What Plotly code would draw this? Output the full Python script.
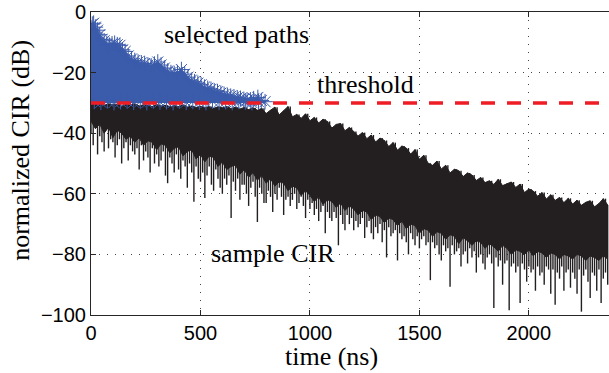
import plotly.graph_objects as go

# ---------------- data ----------------
THRESHOLD_DB = -30

# sample CIR: upper edge of the dense black trace, every 20 ns
cir_top_t = list(range(0, 2361, 20))
cir_top_db = [
    -30, -30.5, -30.2, -30.8, -30.3, -30.6, -30.4, -31, -30.5, -30.7,
    -30.3, -31, -30.6, -30.8, -31.2, -30.5, -31, -30.8, -31.3, -30.9,
    -31.2, -30.7, -31.4, -31, -31.5, -31.1, -31.6, -31.2, -31.8, -31.3,
    -31.6, -31.2, -31.9, -31.4, -32, -31.5, -32.2, -31.6, -32.4,
    -31.8, -33.5, -32.4, -31.4, -33.9, -32.6, -31.2, -34.6, -33.8, -35.1,
    -33.6, -35.9, -34.8, -36.6, -35.4, -36.1, -38.3, -37.1, -36.8, -39.2,
    -38.1, -39.4, -40.9, -39.8, -41.8, -40.6, -42.9, -41.6, -42.4, -44.4,
    -43.1, -45.6, -44.2, -44.9, -46.9, -45.4, -48.6, -47.3, -49.9, -50.6,
    -49.2, -51.8, -50.6, -53.1, -51.9, -52.4, -54.3, -53.1, -53.8, -55.6,
    -54.6, -56.3, -55.7, -56.9, -55.2, -57.3, -56.6, -56.1, -57.9, -56.8,
    -59.6, -58.4, -59.1, -60.8, -59.6, -61.7, -60.3, -62.2, -61.2, -62.9,
    -61.5, -63.4, -62.1, -63.8, -62.8, -62.3, -64.3, -63.2, -61.6, -63.7,
]
# sample CIR: lower edge of the solid part of the trace, every 20 ns
cir_core_db = [
    -36, -38.5, -37, -40, -38, -41.5, -39, -40, -42, -41,
    -43, -41.5, -44, -42.5, -43, -45.5, -43.5, -44, -46.5, -45,
    -44.5, -47.5, -46, -45.5, -48.5, -47, -49.5, -47.5, -48, -51,
    -49.5, -52, -51, -50.5, -53.5, -52, -54.5, -53, -55.5, -54,
    -56.5, -55, -57.5, -56, -56.5, -59, -57.5, -58, -60.5, -59,
    -60.5, -62.5, -61, -63.5, -62, -62.5, -64.5, -63, -65.5, -64,
    -65, -67, -65.5, -66, -68.5, -67, -67.5, -69.5, -68, -68.5,
    -70.5, -69, -71.5, -70, -70.5, -73, -71.5, -72, -74, -72.5,
    -73, -75, -73.5, -74, -76.5, -74.5, -75.5, -77, -75.5, -76,
    -78, -76.5, -77.5, -79, -77, -78, -80, -78.5, -79, -80,
    -78.5, -80.5, -79, -79.5, -81, -79.5, -80, -81.5, -80, -80.5,
    -81.5, -80, -80.5, -82, -80.5, -81, -82, -80.5, -81.5,
]
# sample CIR: depth of each fade (null) below the solid part, every 10 ns
cir_null_t = list(range(0, 2361, 10))
cir_null_db = [
    -40, -44, -38, -47, -41, -43, -46, -39, -45, -42,
    -43, -48, -44, -42, -50, -45, -43, -49, -44, -46,
    -47, -45, -52, -44, -49, -46, -48, -53, -45, -50,
    -47, -51, -49, -46, -54, -56.5, -48, -50, -53, -47,
    -52, -55, -49, -51, -58, -50, -53, -62.6, -51, -55,
    -56, -53, -61.4, -54, -51, -57, -59, -52, -55, -58,
    -60, -55, -57, -54, -68, -56, -59, -55, -62, -57,
    -57, -60, -64, -58, -56, -61, -69.3, -58, -60, -63,
    -63, -59, -61, -66, -60, -62, -58, -61, -67, -62,
    -61, -64, -62, -60, -65, -63, -61, -64, -68, -62,
    -65, -63, -67, -65, -69, -66, -64, -73, -66, -68,
    -69, -66, -68, -77, -67, -70, -72, -67, -70, -68,
    -72, -69, -71, -70, -68, -74.6, -71, -69, -73, -75,
    -71, -73, -70, -76, -72, -81, -71, -74, -73, -72,
    -82, -73, -75, -74, -76, -80, -73, -75, -77, -74,
    -78, -75, -74, -77, -76, -88.5, -76, -78, -77, -80,
    -82, -77, -79, -78, -90.7, -77, -80, -79, -78, -84,
    -80, -79, -83, -78, -81, -79, -86, -81, -80, -83,
    -85, -81, -80, -83, -97.7, -81, -84, -82, -90, -83,
    -82, -98.4, -84, -83, -86, -84, -96, -83, -85, -89,
    -84, -86, -85, -92, -84, -87, -86, -90, -84, -85,
    -93, -85, -96.6, -86, -88, -84, -92, -86, -85, -91,
    -86, -88, -93, -85, -98.9, -87, -85, -89, -94.4, -86,
    -87, -92, -85, -96, -88, -86, -90,
]

# selected paths (above threshold): strongest ones, forming the upper edge
sel_top_t = [0, 6, 12, 20, 30, 40, 50, 60, 72, 84, 96, 108, 120, 132, 144, 156,
             170, 185, 200, 215, 230, 245, 260, 275, 290, 305, 320, 335, 350,
             365, 380, 395, 413, 428, 443, 458, 473, 488, 503, 518, 533, 548,
             563, 578, 593, 608, 623, 638, 653, 668, 683, 698, 713, 728, 743,
             762, 778, 795]
sel_top_db = [-6, -4, -3.7, -5, -6, -7.5, -9, -9.5, -10.5, -11, -10.5, -10.3,
              -10.8, -11, -12.5, -13, -14.5, -15.5, -16, -16.5, -16.8, -17,
              -17.5, -17.8, -17.2, -16.5, -17.5, -18.5, -19.5, -20, -20.3, -20,
              -19, -20.5, -21.5, -22.5, -23, -23.5, -24, -24.8, -25.2, -25.5,
              -26, -26.3, -26.8, -27.2, -27.5, -27.8, -28, -28.3, -28.5, -28.8,
              -29, -29, -28.6, -28.2, -29.2, -29.6]
# selected paths just above the threshold
sel_low_t = list(range(15, 766, 30))
sel_low_db = [-29.5, -29.8, -29.3, -29.9, -29.6, -29.4, -29.8, -29.5, -29.9,
              -29.3, -29.7, -29.6, -29.9, -29.4, -29.8, -29.5, -29.7, -29.9,
              -29.4, -29.8, -29.6, -29.9, -29.5, -29.7, -29.9, -29.6]

x_ticks = [0, 500, 1000, 1500, 2000]
y_ticks = [-100, -80, -60, -40, -20, 0]
X_MAX = 2366

assert len(cir_top_t) == len(cir_top_db) == len(cir_core_db)
assert len(cir_null_t) == len(cir_null_db)
assert len(sel_top_t) == len(sel_top_db) and len(sel_low_t) == len(sel_low_db)

BLACK = "#231f20"
BLUE = "#3b5bab"
RED = "#ee1c25"
SERIF = "Liberation Serif"
SANS = "Liberation Sans"

fig = go.Figure()

# sample CIR: fades drawn as thin vertical strokes from the top of the trace
fx, fy = [], []
for i, (t, v) in enumerate(zip(cir_null_t, cir_null_db)):
    fx += [t, t, None]
    fy += [cir_top_db[i // 2], v, None]
fig.add_trace(go.Scatter(x=fx, y=fy, mode="lines",
                         line=dict(color=BLACK, width=1.4), hoverinfo="skip",
                         showlegend=False))
# sample CIR: solid part between its upper edge and the fades
fig.add_trace(go.Scatter(x=cir_top_t, y=cir_top_db, mode="lines",
                         line=dict(color=BLACK, width=1), hoverinfo="skip",
                         showlegend=False))
fig.add_trace(go.Scatter(x=cir_top_t, y=cir_core_db, mode="lines",
                         line=dict(color=BLACK, width=1), fill="tonexty",
                         fillcolor=BLACK, hoverinfo="skip", showlegend=False))

# selected paths (blue asterisks, dense region)
fig.add_trace(go.Scatter(x=[sel_top_t[0], sel_top_t[-1]],
                         y=[THRESHOLD_DB, THRESHOLD_DB], mode="lines",
                         line=dict(color=BLUE, width=0), hoverinfo="skip",
                         showlegend=False))
fig.add_trace(go.Scatter(x=sel_top_t, y=sel_top_db, mode="lines",
                         line=dict(color=BLUE, width=1), fill="tonexty",
                         fillcolor=BLUE, hoverinfo="skip", showlegend=False))
fig.add_trace(go.Scatter(x=sel_top_t + sel_low_t, y=sel_top_db + sel_low_db,
                         mode="markers",
                         marker=dict(symbol="asterisk-open", size=13,
                                     color=BLUE, line=dict(color=BLUE, width=1)),
                         hoverinfo="skip", showlegend=False))

# threshold
fig.add_trace(go.Scatter(x=[0, X_MAX], y=[THRESHOLD_DB, THRESHOLD_DB],
                         mode="lines",
                         line=dict(color=RED, width=3.5, dash="14px,12px"),
                         hoverinfo="skip", showlegend=False))

# labels inside the plot
for txt, tx, ty in [("selected paths", 666, -7.4),
                    ("threshold", 1253, -23.8),
                    ("sample CIR", 829, -79.6)]:
    fig.add_annotation(x=tx, y=ty, xref="x", yref="y", text=txt,
                       showarrow=False, xanchor="center", yanchor="middle",
                       font=dict(family=SERIF, size=26, color="black"))

# axis titles
fig.add_annotation(x=-0.1377, y=0.544, xref="paper", yref="paper",
                   text="normalized CIR (dB)", textangle=-90, showarrow=False,
                   xanchor="center", yanchor="middle",
                   font=dict(family=SERIF, size=26, color="black"))
fig.add_annotation(x=0.464, y=-0.1385, xref="paper", yref="paper",
                   text="time (ns)", showarrow=False,
                   xanchor="center", yanchor="middle",
                   font=dict(family=SERIF, size=26, color="black"))

axis_common = dict(showline=True, linecolor="#262626", linewidth=1,
                   ticks="inside", ticklen=5, tickcolor="#262626",
                   showgrid=True, gridcolor="#444444", gridwidth=1,
                   griddash="1px,7px", zeroline=False,
                   tickfont=dict(family=SANS, size=20, color="black"))

fig.update_xaxes(range=[0, X_MAX], tickvals=x_ticks,
                 ticktext=[str(v) for v in x_ticks], mirror="ticks",
                 **axis_common)
fig.update_yaxes(range=[-100, 0], tickvals=y_ticks, mirror=False,
                 **axis_common)

fig.update_layout(width=609, height=373,
                  margin=dict(l=91.3, r=0, t=11.7, b=58, pad=0),
                  paper_bgcolor="white", plot_bgcolor="white",
                  showlegend=False)

fig.write_html("out.html")
